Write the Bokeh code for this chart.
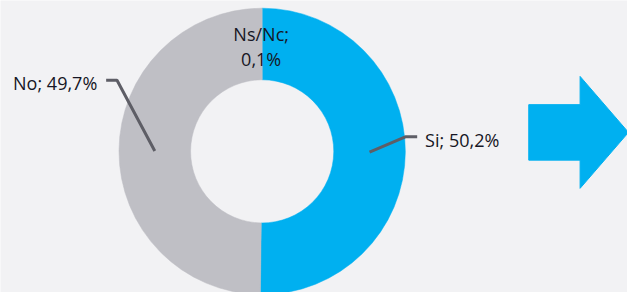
import math
from bokeh.plotting import figure
from bokeh.models import Range1d, ColumnDataSource
from bokeh.core.properties import value
from bokeh.embed import file_html
from bokeh.resources import INLINE

# ---- data ----
categories = ["Si", "No", "Ns/Nc"]
percentages = [50.2, 49.7, 0.1]
colors = ["#00B0F0", "#BFBFC5", "#BFBFC5"]

# ---- layout (reference coordinates: x right, y up = 300 - screen y) ----
W, H = 627, 292
BG = "#F2F2F4"
cx, cy = 265, 300 - 155
r_in, r_out = 72.5, 145

p = figure(width=W, height=H, output_backend="svg", toolbar_location=None,
           x_range=Range1d(0, 635), y_range=Range1d(0, 300), min_border=0)
p.axis.visible = False
p.grid.visible = False
p.outline_line_color = None
p.background_fill_color = BG
p.border_fill_color = BG

# wedges, clockwise from 12 o'clock
starts, ends, mids = [], [], []
a = math.pi / 2
for pct in percentages:
    sweep = pct / 100 * 2 * math.pi
    starts.append(a)
    ends.append(a - sweep)
    mids.append(a - sweep / 2)
    a -= sweep

src = ColumnDataSource(dict(start=starts, end=ends, color=colors))
p.annular_wedge(x=cx, y=cy, inner_radius=r_in, outer_radius=r_out,
                start_angle="start", end_angle="end", direction="clock",
                fill_color="color", line_color="color", line_width=0.5, source=src)

def label(i):
    return f"{categories[i]}; {percentages[i]:.1f}%".replace(".", ",")

r_mid = (r_in + r_out) / 2
lead_col = "#5E5E66"
font = value("Open Sans")
fs = "18px"
txt_col = "#161624"

# Si leader + label (right)
sx = cx + r_mid * math.cos(mids[0]); sy = cy + r_mid * math.sin(mids[0])
p.line([sx, 410, 422], [sy, 300 - 140, 300 - 140], line_color=lead_col, line_width=3)
p.text(x=[430], y=[300 - 143], text=[label(0)], text_font=font, text_font_size=fs,
       text_color=txt_col, text_align="left", text_baseline="middle")

# No leader + label (left)
nx = cx + r_mid * math.cos(mids[1]); ny = cy + r_mid * math.sin(mids[1])
p.line([nx, 118, 107], [ny, 300 - 82, 300 - 82], line_color=lead_col, line_width=3)
p.text(x=[98], y=[300 - 85], text=[label(1)], text_font=font, text_font_size=fs,
       text_color=txt_col, text_align="right", text_baseline="middle")

# Ns/Nc label (top, two lines)
p.text(x=[264], y=[300 - 34], text=[categories[2] + ";"], text_font=font, text_font_size=fs,
       text_color=txt_col, text_align="center", text_baseline="middle")
p.text(x=[264], y=[300 - 60], text=[f"{percentages[2]:.1f}%".replace(".", ",")], text_font=font,
       text_font_size=fs, text_color=txt_col, text_align="center", text_baseline="middle")

# decorative arrow
ax = [535, 587, 587, 636, 587, 587, 535]
ay = [107, 107, 78, 135.5, 193, 164, 164]
p.patch(x=ax, y=[300 - v for v in ay], fill_color="#00B0F0", line_color="#00B0F0")

open("out.html", "w").write(file_html(p, INLINE))
